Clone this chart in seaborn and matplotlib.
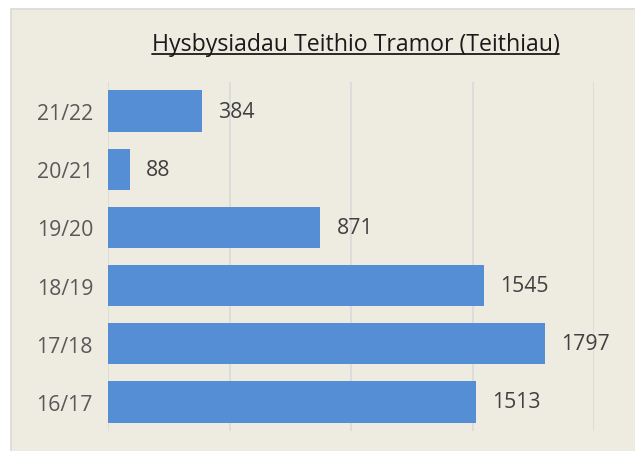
import matplotlib
matplotlib.use("Agg")
import matplotlib.pyplot as plt
import seaborn as sns
import pandas as pd
from matplotlib.lines import Line2D
from matplotlib.patches import Rectangle

years = ["21/22", "20/21", "19/20", "18/19", "17/18", "16/17"]
trips = [384, 88, 871, 1545, 1797, 1513]
x_ticks = [0, 500, 1000, 1500, 2000]

title = "Hysbysiadau Teithio Tramor (Teithiau)"
bg = "#EEECE1"
bar_color = "#558ED5"
grid_color = "#D9D9D9"
text_color = "#404040"

sns.set_theme(style="white")
plt.rcParams["font.family"] = ["Open Sans", "DejaVu Sans"]

df = pd.DataFrame({"year": years, "trips": trips})

fig = plt.figure(figsize=(6.35, 4.52), dpi=100)
fig.patch.set_facecolor("white")
bgrect = Rectangle((10.5 / 635, -0.01), 1.0, 1 - 9.5 / 452 + 0.01,
                   transform=fig.transFigure, facecolor=bg,
                   edgecolor=grid_color, linewidth=1.2, zorder=-5)
fig.add_artist(bgrect)

ax = fig.add_axes([108.3 / 635, 20 / 452, (594 - 108.3) / 635, (432 - 83) / 452])
ax.patch.set_alpha(0)

sns.barplot(data=df, x="trips", y="year", order=years, orient="h",
            color=bar_color, saturation=1, width=0.71, linewidth=0, ax=ax, zorder=3)

ax.set_xlim(0, 2000)
ax.set_xticks(x_ticks)
ax.set_xticklabels([])
ax.tick_params(axis="x", length=0)
ax.tick_params(axis="y", length=0, pad=11, labelsize=15.3, labelcolor="#595959")
ax.grid(axis="x", color=grid_color, linewidth=1.2, zorder=0)
ax.set_axisbelow(True)
for s in ax.spines.values():
    s.set_visible(False)
ax.set_xlabel("")
ax.set_ylabel("")

for c in ax.containers:
    ax.bar_label(c, labels=[str(v) for v in trips], padding=12,
                 fontsize=15.3, color=text_color)

t = fig.text(355.5 / 635, 1 - 45 / 452, title, ha="center", va="center",
             fontsize=16.7, color="#1a1a1a")
fig.canvas.draw()
bb = t.get_window_extent(renderer=fig.canvas.get_renderer())
inv = fig.transFigure.inverted()
(x0, y0), (x1, y1) = inv.transform([(bb.x0, bb.y0), (bb.x1, bb.y0)])
fig.add_artist(Line2D([x0, x1], [y0 + 2 / 452, y0 + 2 / 452], transform=fig.transFigure,
                      color="#1a1a1a", linewidth=1.3))

fig.savefig("out.png", dpi=100, facecolor=fig.get_facecolor())
